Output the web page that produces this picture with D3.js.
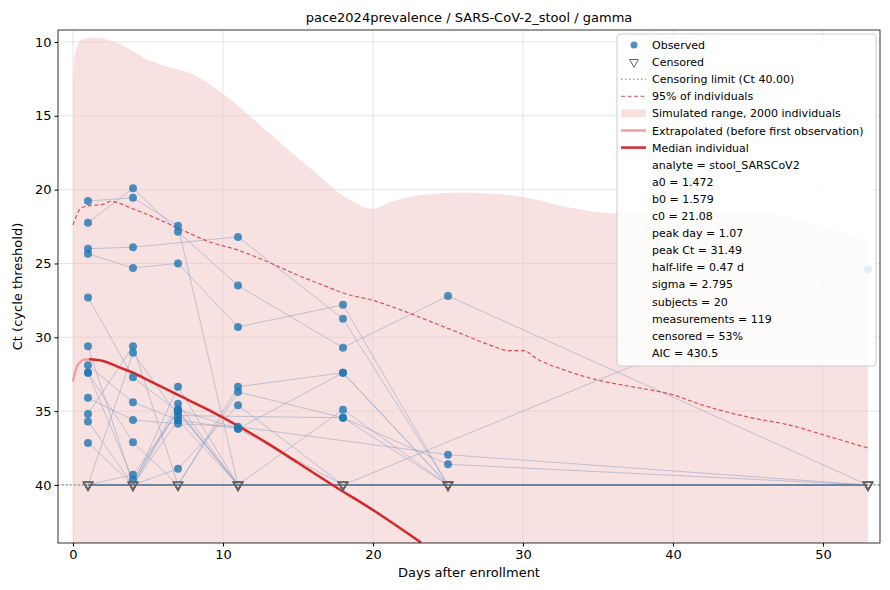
<!DOCTYPE html>
<html><head><meta charset="utf-8">
<script src="https://cdn.jsdelivr.net/npm/d3@7"></script>
<style>body{margin:0;background:#fff}text{font-family:"DejaVu Sans",sans-serif}</style>
</head><body><svg id="c" width="890" height="590"></svg>
<script>
const xTicks=[0,10,20,30,40,50];
const yTicks=[10,15,20,25,30,35,40];
const censorLimit=40;
// subjects: [day, ct, censored(1)]
const subjects=[
 [[1,22.25],[4,19.9],[7,22.85],[11,26.5],[18,30.7],[25,27.2],[53,40,1]],
 [[1,20.77],[4,20.55],[7,22.45],[11,40,1]],
 [[1,24.0],[4,23.9],[11,23.2],[18,28.75],[25,40,1]],
 [[1,24.35],[4,25.3],[7,25.0],[11,29.3],[18,27.8],[25,40,1]],
 [[1,27.3],[4,32.7],[7,35.05],[11,40,1]],
 [[1,30.6],[4,40,1],[7,33.35],[11,40,1]],
 [[1,31.9],[4,34.4],[7,35.6],[11,36.2],[18,32.4],[25,40,1]],
 [[1,32.4],[4,37.1],[7,40,1],[11,33.35],[18,32.4],[25,40,1]],
 [[1,32.4],[4,39.65],[7,34.9],[11,40,1],[18,34.9],[25,40,1]],
 [[1,34.1],[4,35.6],[7,35.85],[11,36.05],[25,37.95],[53,40,1]],
 [[1,35.2],[4,30.6],[7,40,1],[11,33.7],[18,35.45],[25,38.6],[53,40,1]],
 [[1,35.7],[4,40,1],[7,34.5],[11,40,1]],
 [[1,37.15],[4,40,1],[7,38.9],[11,34.6],[18,40,1],[25,40,1]],
 [[1,40,1],[4,31.05],[7,35.3],[18,35.45],[25,40,1]],
 [[1,40,1],[4,39.3],[7,35.05],[11,40,1],[18,40,1],[53,25.4]],
 [[1,40,1],[4,40,1],[7,40,1],[11,40,1],[18,40,1],[25,40,1],[53,40,1]],
 [[1,40,1],[4,40,1],[7,34.9],[11,36.2],[18,40,1],[25,40,1],[53,40,1]],
 [[1,40,1],[4,40,1],[7,40,1],[11,40,1],[18,40,1],[25,40,1],[53,40,1]],
 [[1,40,1],[4,40,1],[7,35.6],[11,40,1],[18,40,1],[25,40,1],[53,40,1]],
 [[1,40,1],[4,40,1],[7,40,1],[11,40,1],[18,40,1],[25,40,1],[53,40,1]]
];
const medDays=[1.07,2,3,4,5,7,9,11,13,15,17.3,20,23.2];
const medCt=[31.49,31.6,32.0,32.4,32.9,33.9,34.9,36.0,37.2,38.5,40.0,41.7,43.9];
const extDays=[0,0.15,0.3,0.5,0.75,1.07];
const extCt=[33,32.3,31.9,31.65,31.52,31.49];
const q95Days=[0,0.5,1,2,2.5,3,4,5,7,9,11,13,15,17,18,20,22,24,26,28,29,30,31,33,35,37,40,42,45,48,50,53];
const q95Ct=[22.4,21.3,21.1,21.0,20.8,20.9,21.3,21.7,22.6,23.5,24.1,24.9,25.8,26.6,27.0,27.5,28.2,29.0,29.8,30.6,30.9,30.9,31.5,32.3,32.9,33.3,33.9,34.6,35.4,36.0,36.6,37.5];
const bandDays=[0,0.1,0.3,0.7,1.5,3,5,6,8,10,12,14,16,18,20,21,23,26,30,33,36,40,45,50,53];
const bandTop=[13,11,10.2,9.8,9.7,10.1,11.2,11.6,12.2,13.5,15.2,17,18.7,20.4,21.3,20.9,20.4,20.2,20.5,21.2,21.6,21.5,21.5,22.5,23.5];
const legendItems=["Observed","Censored","Censoring limit (Ct 40.00)","95% of individuals","Simulated range, 2000 individuals","Extrapolated (before first observation)","Median individual"];
const infoLines=["analyte = stool_SARSCoV2","a0 = 1.472","b0 = 1.579","c0 = 21.08","peak day = 1.07","peak Ct = 31.49","half-life = 0.47 d","sigma = 2.795","subjects = 20","measurements = 119","censored = 53%","AIC = 430.5"];

const svg=d3.select("#c");
const L=58,R=880,T=30,B=543;
const x=d3.scaleLinear().domain([-1,53.8]).range([L,R]);
const y=d3.scaleLinear().domain([9.19,43.93]).range([T,B]);
const g=svg.append("g");
g.append("defs").append("clipPath").attr("id","cp").append("rect").attr("x",L).attr("y",T).attr("width",R-L).attr("height",B-T);
const p=g.append("g").attr("clip-path","url(#cp)");
xTicks.forEach(t=>p.append("line").attr("x1",x(t)).attr("x2",x(t)).attr("y1",T).attr("y2",B).attr("stroke","#ddd").attr("stroke-width",0.8));
yTicks.forEach(t=>p.append("line").attr("y1",y(t)).attr("y2",y(t)).attr("x1",L).attr("x2",R).attr("stroke","#ddd").attr("stroke-width",0.8));
const band=bandDays.map((d,i)=>[d,bandTop[i]]);
p.append("path").attr("d",d3.area().x(d=>x(d[0])).y0(y(45)).y1(d=>y(d[1])).curve(d3.curveMonotoneX)(band)).attr("fill","#f2c4c4").attr("opacity",0.5);
subjects.forEach(s=>p.append("path").attr("d",d3.line().x(d=>x(d[0])).y(d=>y(d[1]))(s)).attr("fill","none").attr("stroke","#8fa3c4").attr("stroke-opacity",0.55).attr("stroke-width",1));
p.append("line").attr("x1",x(1)).attr("x2",x(53)).attr("y1",y(40)).attr("y2",y(40)).attr("stroke","#4a7fb5").attr("stroke-width",1.5);
p.append("line").attr("x1",L).attr("x2",R).attr("y1",y(censorLimit)).attr("y2",y(censorLimit)).attr("stroke","#777").attr("stroke-width",1.2).attr("stroke-dasharray","1.5,2.5");
p.append("path").attr("d",d3.line().x(d=>x(d)).y((d,i)=>y(q95Ct[i])).curve(d3.curveMonotoneX)(q95Days)).attr("fill","none").attr("stroke","#e05050").attr("stroke-width",1.2).attr("stroke-dasharray","4,2.5");
p.append("path").attr("d",d3.line().x(d=>x(d)).y((d,i)=>y(extCt[i])).curve(d3.curveMonotoneX)(extDays)).attr("fill","none").attr("stroke","#f0a0a0").attr("stroke-width",2.5);
p.append("path").attr("d",d3.line().x(d=>x(d)).y((d,i)=>y(medCt[i])).curve(d3.curveMonotoneX)(medDays)).attr("fill","none").attr("stroke","#d62728").attr("stroke-width",2.5);
const tri=d3.symbol().type(d3.symbolTriangle).size(34);
subjects.forEach(s=>s.forEach(d=>{
 if(d[2]) p.append("path").attr("d",tri()).attr("transform",`translate(${x(d[0])},${y(d[1])}) rotate(180)`).attr("fill","none").attr("stroke","#666").attr("stroke-width",1.3);
 else p.append("circle").attr("cx",x(d[0])).attr("cy",y(d[1])).attr("r",4).attr("fill","#1f77b4").attr("fill-opacity",0.8);
}));
g.append("rect").attr("x",L).attr("y",T).attr("width",R-L).attr("height",B-T).attr("fill","none").attr("stroke","#000").attr("stroke-width",0.8);
const xa=g.append("g").attr("transform",`translate(0,${B})`).call(d3.axisBottom(x).tickValues(xTicks).tickSize(3.5));
const ya=g.append("g").attr("transform",`translate(${L},0)`).call(d3.axisLeft(y).tickValues(yTicks).tickSize(3.5));
[xa,ya].forEach(a=>{a.select(".domain").remove();a.selectAll("text").attr("font-size",13).attr("fill","#000");});
g.append("text").attr("x",(L+R)/2).attr("y",577).attr("text-anchor","middle").attr("font-size",13).text("Days after enrollment");
g.append("text").attr("transform",`translate(22,${(T+B)/2}) rotate(-90)`).attr("text-anchor","middle").attr("font-size",13).text("Ct (cycle threshold)");
g.append("text").attr("x",(L+R)/2).attr("y",22).attr("text-anchor","middle").attr("font-size",13).text("pace2024prevalence / SARS-CoV-2_stool / gamma");
const lg=g.append("g");
lg.append("rect").attr("x",617).attr("y",34).attr("width",259).attr("height",332).attr("rx",3).attr("fill","#fff").attr("fill-opacity",0.85).attr("stroke","#ccc");
const lx=652,ly0=45,st=17.1;
const all=legendItems.concat(infoLines);
all.forEach((t,i)=>lg.append("text").attr("x",lx).attr("y",ly0+i*st+4).attr("font-size",11).text(t));
const cy=i=>ly0+i*st;
lg.append("circle").attr("cx",634).attr("cy",cy(0)).attr("r",3.5).attr("fill","#1f77b4").attr("fill-opacity",0.8);
lg.append("path").attr("d",tri()).attr("transform",`translate(634,${cy(1)}) rotate(180)`).attr("fill","none").attr("stroke","#666");
lg.append("line").attr("x1",621).attr("x2",646).attr("y1",cy(2)).attr("y2",cy(2)).attr("stroke","#777").attr("stroke-dasharray","1.5,2.5");
lg.append("line").attr("x1",621).attr("x2",646).attr("y1",cy(3)).attr("y2",cy(3)).attr("stroke","#e05050").attr("stroke-dasharray","4,2.5");
lg.append("rect").attr("x",621).attr("y",cy(4)-4).attr("width",25).attr("height",8).attr("fill","#f2c4c4").attr("opacity",0.5);
lg.append("line").attr("x1",621).attr("x2",646).attr("y1",cy(5)).attr("y2",cy(5)).attr("stroke","#f0a0a0").attr("stroke-width",2.5);
lg.append("line").attr("x1",621).attr("x2",646).attr("y1",cy(6)).attr("y2",cy(6)).attr("stroke","#d62728").attr("stroke-width",2.5);
</script></body></html>
